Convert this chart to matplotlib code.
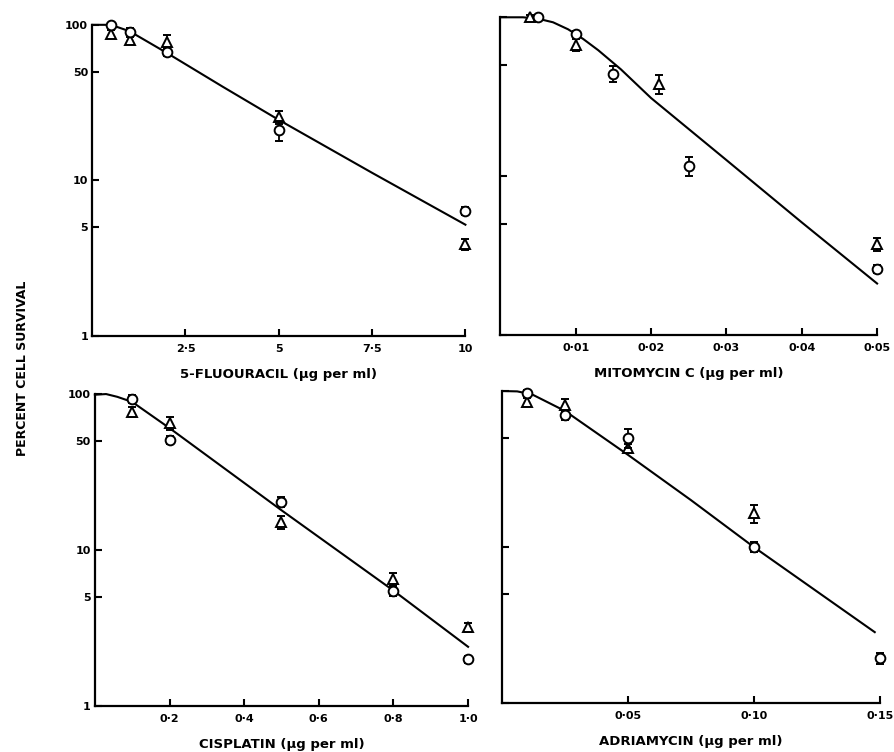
import numpy as np
import matplotlib
matplotlib.use('Agg')
import matplotlib.pyplot as plt
from matplotlib.ticker import FixedLocator, NullLocator

plt.rcParams['font.family'] = ['DejaVu Sans']

# 5-fluorouracil
fu_x = [0.5, 1, 2, 5, 10]
fu_circ = [100, 90, 67, 21, 6.4]
fu_circ_err = [3, 6, 4, 3, 0.4]
fu_tri = [87, 80, 78, 25.5, 3.9]
fu_tri_err = [5, 5, 8, 2.5, 0.3]
fu_curve_x = [0, 0.5, 1, 2, 3.5, 5, 7.5, 10]
fu_curve_y = [100, 100, 91, 66, 40, 24.5, 11.2, 5.2]

# mitomycin C
mm_circ_x = [0.005, 0.01, 0.015, 0.025, 0.05]
mm_circ = [100, 78, 44, 11.6, 2.6]
mm_circ_err = [3, 4, 5, 1.6, 0.15]
mm_tri_x = [0.004, 0.01, 0.021, 0.05]
mm_tri = [100, 67, 38, 3.7]
mm_tri_err = [4, 6, 5, 0.35]
mm_curve_x = [0, 0.003, 0.005, 0.007, 0.009, 0.011, 0.013, 0.016, 0.02, 0.03, 0.04, 0.05]
mm_curve_y = [100, 100, 98, 93, 84, 73, 62, 47, 31, 12.6, 5.1, 2.1]

# cisplatin
cp_x = [0.1, 0.2, 0.5, 0.8, 1.0]
cp_circ = [93, 51, 20.3, 5.5, 2.0]
cp_circ_err = [5, 3, 1.5, 0.4, 0.1]
cp_tri = [77, 65, 15.1, 6.5, 3.2]
cp_tri_err = [6, 6, 1.4, 0.6, 0.2]
cp_curve_x = [0, 0.03, 0.06, 0.1, 0.2, 0.5, 0.8, 1.0]
cp_curve_y = [99, 100, 96, 89, 60.5, 18, 5.5, 2.4]

# adriamycin
ad_circ_x = [0.01, 0.025, 0.05, 0.1, 0.15]
ad_circ = [97, 70, 50, 10, 1.94]
ad_circ_err = [4, 5, 7, 0.7, 0.15]
ad_tri_x = [0.01, 0.025, 0.05, 0.1]
ad_tri = [85, 81, 43, 16.5]
ad_tri_err = [5, 8, 3, 2.2]
ad_curve_x = [0, 0.006, 0.012, 0.025, 0.05, 0.075, 0.1, 0.125, 0.148]
ad_curve_y = [100, 99.5, 95, 74.5, 39, 20, 10, 5.2, 2.85]

y_ticks = [1, 5, 10, 50, 100]

panels = [
    dict(pos=[0.103, 0.553, 0.417, 0.414], xmax=10, xticks=[2.5, 5, 7.5, 10],
         xlabels=['2·5', '5', '7·5', '10'], title='5-FLUOURACIL (µg per ml)', ylab=True,
         cx=fu_x, cy=fu_circ, ce=fu_circ_err, tx=fu_x, ty=fu_tri, te=fu_tri_err,
         lx=fu_curve_x, ly=fu_curve_y),
    dict(pos=[0.559, 0.555, 0.421, 0.422], xmax=0.05, xticks=[0.01, 0.02, 0.03, 0.04, 0.05],
         xlabels=['0·01', '0·02', '0·03', '0·04', '0·05'], title='MITOMYCIN C (µg per ml)', ylab=False,
         cx=mm_circ_x, cy=mm_circ, ce=mm_circ_err, tx=mm_tri_x, ty=mm_tri, te=mm_tri_err,
         lx=mm_curve_x, ly=mm_curve_y),
    dict(pos=[0.106, 0.061, 0.417, 0.415], xmax=1.0, xticks=[0.2, 0.4, 0.6, 0.8, 1.0],
         xlabels=['0·2', '0·4', '0·6', '0·8', '1·0'], title='CISPLATIN (µg per ml)', ylab=True,
         cx=cp_x, cy=cp_circ, ce=cp_circ_err, tx=cp_x, ty=cp_tri, te=cp_tri_err,
         lx=cp_curve_x, ly=cp_curve_y),
    dict(pos=[0.561, 0.065, 0.422, 0.415], xmax=0.15, xticks=[0.05, 0.10, 0.15],
         xlabels=['0·05', '0·10', '0·15'], title='ADRIAMYCIN (µg per ml)', ylab=False,
         cx=ad_circ_x, cy=ad_circ, ce=ad_circ_err, tx=ad_tri_x, ty=ad_tri, te=ad_tri_err,
         lx=ad_curve_x, ly=ad_curve_y),
]

fig = plt.figure(figsize=(8.95, 7.52), dpi=100)

for p in panels:
    ax = fig.add_axes(p['pos'])
    ax.set_yscale('log')
    ax.set_ylim(1, 100)
    ax.set_xlim(0, p['xmax'])
    ax.plot(p['lx'], p['ly'], color='black', lw=1.5, zorder=2, clip_on=False)
    tri = ax.errorbar(p['tx'], p['ty'], yerr=p['te'], fmt='^', ms=6.5, mfc='white', mec='black',
                      mew=1.4, ecolor='black', elinewidth=1.3, capsize=3, capthick=1.3, zorder=3)
    circ = ax.errorbar(p['cx'], p['cy'], yerr=p['ce'], fmt='o', ms=7, mfc='white', mec='black',
                       mew=1.4, ecolor='black', elinewidth=1.3, capsize=3, capthick=1.3, zorder=4)
    for cont in (tri, circ):
        for art in cont.get_children():
            art.set_clip_on(False)
    for s in ['top', 'right']:
        ax.spines[s].set_visible(False)
    for s in ['left', 'bottom']:
        ax.spines[s].set_linewidth(1.6)
    ax.yaxis.set_major_locator(FixedLocator(y_ticks))
    ax.yaxis.set_minor_locator(NullLocator())
    if p['ylab']:
        ax.set_yticklabels([str(t) for t in y_ticks], fontsize=8, fontweight='bold')
    else:
        ax.set_yticklabels([])
    ax.set_xticks(p['xticks'])
    ax.set_xticklabels(p['xlabels'], fontsize=8, fontweight='bold')
    ax.tick_params(direction='in', length=5, width=1.5, pad=6)
    ax.tick_params(axis='y', pad=3)
    ax.set_xlabel(p['title'], fontsize=9.5, fontweight='bold', labelpad=10)
    ax.set_facecolor('none')

fig.text(0.025, 0.51, 'PERCENT CELL SURVIVAL', rotation=90, ha='center', va='center',
         fontsize=9, fontweight='bold')

plt.savefig('out.png', dpi=100)
